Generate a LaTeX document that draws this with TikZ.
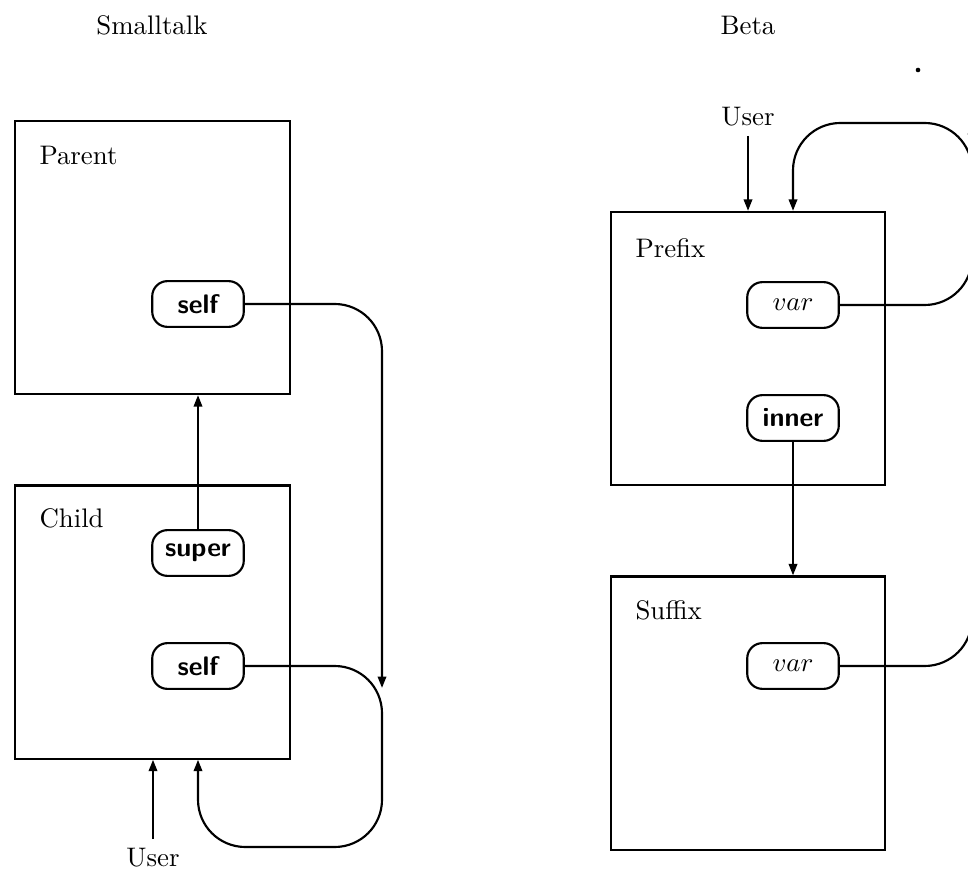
\documentclass[tikz,border=0pt]{standalone}
\usepackage{tikz}
\usetikzlibrary{arrows.meta,positioning}
\tikzset{
  % Class frame (parent/child, prefix/suffix)
  frame/.style={rectangle,draw,line width=0.8pt,
    minimum width=3.6cm,minimum height=3.58cm,inner sep=0pt},
  % Rounded slot: self, super, inner, var
  slot/.style={rectangle,rounded corners=0.2cm,draw,line width=0.8pt,
    minimum width=1.2cm,minimum height=0.6cm,inner sep=0pt,
    font=\sffamily\bfseries},
  % Frame caption, top left
  lbl/.style={anchor=west,inner sep=0pt},
  % Arrows
  arr/.style={-{Triangle[length=1.5mm,width=1.1mm]},line width=0.8pt},
  looparr/.style={arr,rounded corners=0.62cm},
}
\begin{document}
\begin{tikzpicture}[x=0.0131cm,y=-0.0131cm]
  \path[use as bounding box,clip] (0,0) rectangle (968,871);

  % Smalltalk
  \node (st) at (152,25) {Smalltalk};
  \node[frame] (parent) at (152.5,257.5) {};
  \node[lbl] (parentl) at (39,155) {Parent};
  \node[slot] (pself) at (198,304) {self};

  \node[frame,below=1.17cm of parent] (child) {};
  \node[lbl] (childl) at (39,518) {Child};
  \node[slot] (super) at (198,553) {super};
  \node[slot] (cself) at (198,666) {self};
  \node (cuser) at (153,858) {User};

  \draw[arr] (super) -- (super |- parent.south);
  \draw[looparr] (pself.east) -| (382,688);
  \draw[looparr] (cself.east) -| (382,847) -| (cself |- child.south);
  \draw[arr] (cuser) -- (cuser |- child.south);

  % Beta
  \node (beta) at (748,25) {Beta};
  \fill (918,70) circle (2.3);
  \node (buser) at (748,117) {User};
  \node[frame] (prefix) at (748,348.5) {};
  \node[lbl] (prefixl) at (635,248) {Prefix};
  \node[slot] (pvar) at (793,305) {$var$};
  \node[slot] (inner) at (793,418) {inner};

  \node[frame,below=1.17cm of prefix] (suffix) {};
  \node[lbl] (suffixl) at (635,610) {Suffix};
  \node[slot] (svar) at (793,666) {$var$};
  \coordinate (loop) at (972,123);

  \draw[arr] (buser) -- (buser |- prefix.north);
  \draw[arr] (inner) -- (inner |- suffix.north);
  \draw[looparr] (pvar.east) -| (loop) -| (pvar |- prefix.north);
  \draw[looparr] (svar.east) -| (loop);
\end{tikzpicture}
\end{document}
